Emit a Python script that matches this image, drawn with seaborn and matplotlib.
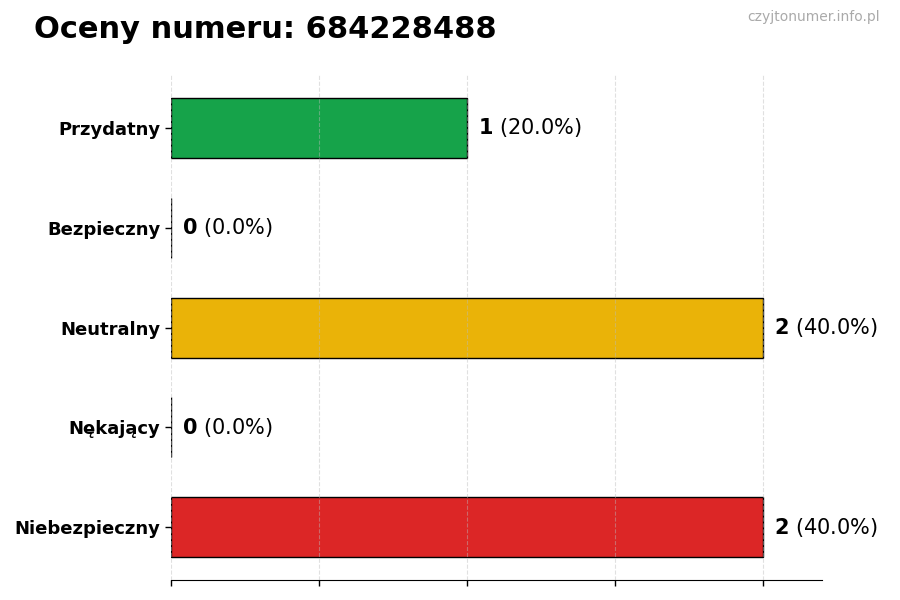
import pandas as pd
import matplotlib.pyplot as plt
import seaborn as sns

categories = ['Przydatny', 'Bezpieczny', 'Neutralny', 'Nękający', 'Niebezpieczny']
counts = [1, 0, 2, 0, 2]
colors = ['#16a34a', '#16a34a', '#eab308', '#dc2626', '#dc2626']
phone_number = '684228488'

total = sum(counts)
df = pd.DataFrame({'category': categories, 'count': counts})

sns.set_style('white')
plt.rcParams['font.family'] = ['DejaVu Sans']
plt.rcParams['text.color'] = 'black'
plt.rcParams['axes.labelcolor'] = 'black'
plt.rcParams['xtick.color'] = 'black'
plt.rcParams['ytick.color'] = 'black'

fig = plt.figure(figsize=(9, 6), dpi=100)
ax = fig.add_axes([0.19, 0.033, 0.723, 0.842])

sns.barplot(data=df, x='count', y='category', hue='category', palette=colors,
            orient='h', width=0.6, saturation=1, edgecolor='black', linewidth=1,
            legend=False, ax=ax)

for i, c in enumerate(counts):
    pct = c / total * 100 if total else 0
    ax.annotate(f'$\\bf{{{c}}}$ ({pct:.1f}%)', xy=(c, i), xytext=(8, 0),
                textcoords='offset points', va='center', ha='left', fontsize=15,
                color='black')

ax.set_xlim(0, 2.2)
ax.set_ylim(4.53, -0.53)
ax.set_xticks([0, 0.5, 1, 1.5, 2])
ax.set_xticklabels([])
ax.set_xlabel('')
ax.set_ylabel('')
ax.tick_params(axis='both', length=4, color='black', width=1)
ax.tick_params(axis='x', bottom=True)
ax.tick_params(axis='y', left=True)
for lab in ax.get_yticklabels():
    lab.set_fontweight('bold')
    lab.set_fontsize(13)
    lab.set_color('black')

ax.xaxis.grid(True, linestyle='--', color='#bbbbbb', linewidth=0.8, alpha=0.45)
ax.set_axisbelow(False)
for s in ['top', 'right', 'left']:
    ax.spines[s].set_visible(False)
ax.spines['bottom'].set_color('black')

fig.text(0.038, 0.95, f'Oceny numeru: {phone_number}', fontsize=22, fontweight='bold',
         ha='left', va='center', color='black')
fig.text(0.978, 0.972, 'czyjtonumer.info.pl', fontsize=10, color='#aaaaaa',
         ha='right', va='center')

plt.savefig('out.png', dpi=100)
plt.close()
